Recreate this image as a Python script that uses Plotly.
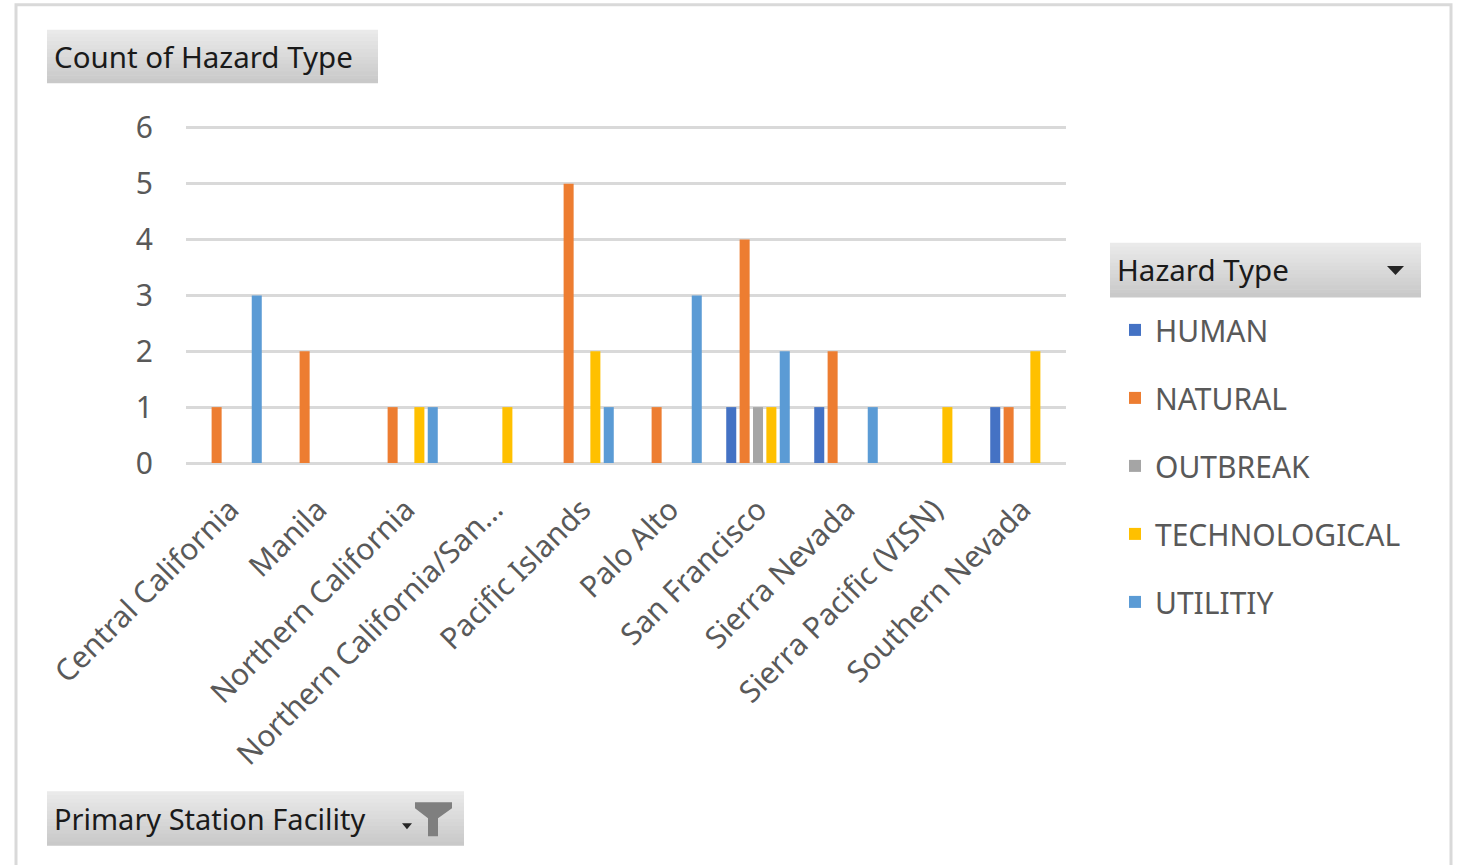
import plotly.graph_objects as go

# ---------------- data ----------------
categories = [
    "Central California", "Manila", "Northern California",
    "Northern California/San...", "Pacific Islands", "Palo Alto",
    "San Francisco", "Sierra Nevada", "Sierra Pacific (VISN)", "Southern Nevada",
]
human         = [None, None, None, None, None, None, 1, 1, None, 1]
natural       = [1, 2, 1, None, 5, 1, 4, 2, None, 1]
outbreak      = [None, None, None, None, None, None, 1, None, None, None]
technological = [None, None, 1, 1, 2, None, 1, None, 1, 2]
utility       = [3, None, 1, None, 1, 3, 2, 1, None, None]

series_names = ["HUMAN", "NATURAL", "OUTBREAK", "TECHNOLOGICAL", "UTILITIY"]
series_values = [human, natural, outbreak, technological, utility]
series_colors = ["#4472C4", "#ED7D31", "#A5A5A5", "#FFC000", "#5B9BD5"]

y_ticks = [0, 1, 2, 3, 4, 5, 6]
y_max = 6.05

# ---------------- geometry helpers (pixel -> paper) ----------------
W, H = 1458, 865
PL, PR, PB = 186, 1066, 463
UNIT = (463 - 128) / 6.0
PT = PB - y_max * UNIT  # plot area top in pixels


def px(x):
    return (x - PL) / (PR - PL)


def py(y):
    return (PB - y) / (PB - PT)


FONT = "Noto Sans"

fig = go.Figure()
for i, (name, vals, col) in enumerate(zip(series_names, series_values, series_colors)):
    fig.add_trace(go.Bar(
        name=name, x=categories, y=vals,
        marker=dict(color=col, line=dict(width=0)),
        legendgroup=name,
    ))

shapes = []


def gradient_button(x0, y0, x1, y1, top=(0xEA, 0xEA, 0xEA), bot=(0xC9, 0xC9, 0xC9), n=14):
    h = (y1 - y0) / n
    for k in range(n):
        t = k / (n - 1)
        c = tuple(int(round(top[j] + (bot[j] - top[j]) * t)) for j in range(3))
        shapes.append(dict(
            type="rect", xref="paper", yref="paper", layer="below",
            x0=px(x0), x1=px(x1), y0=py(y0 + k * h), y1=py(y0 + (k + 1) * h + 0.6),
            line=dict(width=0), fillcolor="rgb(%d,%d,%d)" % c,
        ))


# outer chart border
shapes.append(dict(type="rect", xref="paper", yref="paper",
                   x0=px(16), x1=px(1451), y0=py(5), y1=py(880),
                   line=dict(color="#D9D9D9", width=3), fillcolor="rgba(0,0,0,0)"))

# buttons
gradient_button(47, 30, 378, 83)
gradient_button(1110, 243, 1421, 297)
gradient_button(47, 791, 464, 845)


def poly(points):
    return "M " + " L ".join("%f,%f" % (px(a), py(b)) for a, b in points) + " Z"


# dropdown arrow for legend header
shapes.append(dict(type="path", xref="paper", yref="paper",
                   path=poly([(1387, 266), (1404, 266), (1395.5, 275)]),
                   fillcolor="#262626", line=dict(width=0)))
# funnel icon
shapes.append(dict(type="path", xref="paper", yref="paper",
                   path=poly([(415, 802), (452, 802), (452, 808), (438, 818), (438, 836),
                              (428, 836), (428, 818), (415, 808)]),
                   fillcolor="#7F7F7F", line=dict(width=0)))
shapes.append(dict(type="path", xref="paper", yref="paper",
                   path=poly([(402, 823), (412, 823), (407, 829)]),
                   fillcolor="#262626", line=dict(width=0)))

annotations = [
    dict(text="Count of Hazard Type", x=px(52), y=py(57), size=29.5),
    dict(text="Hazard Type", x=px(1115), y=py(270), size=29.5),
    dict(text="Primary Station Facility", x=px(52), y=py(818), size=29),
]
for a in annotations:
    s = a.pop("size")
    a.update(xref="paper", yref="paper", xanchor="left", yanchor="middle",
             showarrow=False, font=dict(family=FONT, size=s, color="#1A1A1A"))

fig.update_layout(
    width=W, height=H,
    margin=dict(l=PL, r=W - PR, t=PT, b=H - PB, pad=0),
    paper_bgcolor="white", plot_bgcolor="white",
    barmode="group", bargap=0.24, bargroupgap=0.25,
    font=dict(family=FONT, color="#595959"),
    shapes=shapes, annotations=annotations,
    showlegend=True,
    legend=dict(
        x=px(1115), y=py(304), xanchor="left", yanchor="top",
        font=dict(family=FONT, size=30, color="#595959"),
        traceorder="grouped", tracegroupgap=26,
        bgcolor="rgba(0,0,0,0)",
    ),
    xaxis=dict(
        type="category", tickangle=-45, showgrid=False, showline=False,
        ticks="", tickfont=dict(family=FONT, size=30, color="#595959"),
        ticklabelstandoff=22, fixedrange=True,
    ),
    yaxis=dict(
        range=[0, y_max], tickvals=y_ticks, showgrid=True, gridcolor="#D9D9D9", gridwidth=3,
        zeroline=True, zerolinecolor="#D9D9D9", zerolinewidth=3, showline=False,
        ticks="", tickfont=dict(family=FONT, size=30, color="#595959"),
        ticklabelstandoff=32, fixedrange=True,
    ),
)

fig.write_html("out.html", config=dict(displayModeBar=False))
